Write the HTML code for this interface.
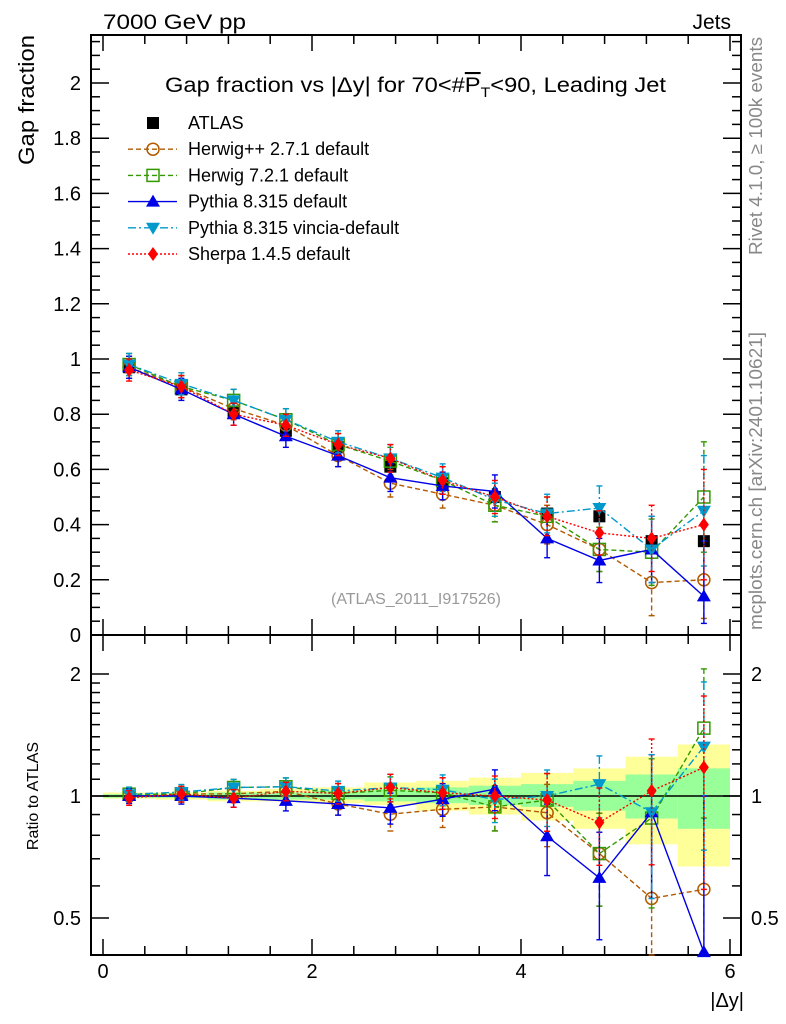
<!DOCTYPE html>
<html><head><meta charset="utf-8"><style>
html,body{margin:0;padding:0;background:#fff;}
svg{display:block;font-family:"Liberation Sans",Arial,sans-serif;}
</style></head><body>
<svg id="chart" width="786" height="1024" viewBox="0 0 786 1024" xmlns="http://www.w3.org/2000/svg">
<text x="103" y="29" font-size="21" textLength="143" lengthAdjust="spacingAndGlyphs">7000 GeV pp</text>
<text x="731" y="29" font-size="21" text-anchor="end">Jets</text>
<text x="165" y="92" font-size="21" textLength="501" lengthAdjust="spacingAndGlyphs">Gap fraction vs |Δy| for 70&lt;#<tspan text-decoration="overline">P</tspan><tspan font-size="14" dy="5">T</tspan><tspan dy="-5">&lt;90, Leading Jet</tspan></text>
<text transform="translate(34,100) rotate(-90)" font-size="22" text-anchor="middle" textLength="130" lengthAdjust="spacingAndGlyphs">Gap fraction</text>
<text transform="translate(38,796) rotate(-90)" font-size="16" text-anchor="middle">Ratio to ATLAS</text>
<text transform="translate(762,146) rotate(-90)" font-size="18" fill="#888" text-anchor="middle" textLength="218" lengthAdjust="spacingAndGlyphs">Rivet 4.1.0, ≥ 100k events</text>
<text transform="translate(762,481) rotate(-90)" font-size="18" fill="#888" text-anchor="middle" textLength="298" lengthAdjust="spacingAndGlyphs">mcplots.cern.ch [arXiv:2401.10621]</text>
<text x="416" y="604" font-size="16" fill="#999" text-anchor="middle" textLength="170" lengthAdjust="spacingAndGlyphs">(ATLAS_2011_I917526)</text>
<text x="744" y="1007" font-size="20" text-anchor="end">|Δy|</text>
<g id="g"></g>
</svg>
<script>
const xCenters=[0.25,0.75,1.25,1.75,2.25,2.75,3.25,3.75,4.25,4.75,5.25,5.75];
const atlas=[0.97,0.89,0.81,0.74,0.68,0.61,0.55,0.50,0.44,0.43,0.34,0.34];
const herwigpp=[0.97,0.90,0.82,0.76,0.65,0.55,0.51,0.47,0.40,0.31,0.19,0.20];
const herwig7=[0.98,0.90,0.85,0.78,0.69,0.63,0.56,0.47,0.43,0.31,0.30,0.50];
const pythia=[0.97,0.89,0.80,0.72,0.65,0.57,0.54,0.52,0.35,0.27,0.31,0.14];
const vincia=[0.98,0.91,0.85,0.78,0.70,0.64,0.57,0.49,0.44,0.46,0.31,0.45];
const sherpa=[0.96,0.90,0.80,0.76,0.69,0.64,0.56,0.50,0.43,0.37,0.35,0.40];
const mcErr=[0.04,0.04,0.04,0.04,0.04,0.05,0.05,0.06,0.07,0.08,0.12,0.20];
const yellowHi=[1.02,1.02,1.03,1.04,1.05,1.08,1.09,1.11,1.14,1.17,1.25,1.34];
const yellowLo=[0.985,0.98,0.97,0.97,0.96,0.95,0.92,0.90,0.87,0.83,0.76,0.67];
const greenHi=[1.01,1.01,1.02,1.02,1.03,1.04,1.05,1.06,1.07,1.09,1.13,1.17];
const greenLo=[0.99,0.99,0.98,0.98,0.98,0.97,0.96,0.95,0.94,0.92,0.88,0.83];
const mainTicks=[0,0.2,0.4,0.6,0.8,1,1.2,1.4,1.6,1.8,2];
const ratioTicks=[0.5,1,2];
const xTicks=[0,2,4,6];

const L=91,R=741,T=35,MB=635,RB=955;
const X=v=>103+v*104.5;
const Y=v=>635-v*276;
const RY=r=>796-122*Math.log2(r);
const NS="http://www.w3.org/2000/svg";
const g=document.getElementById('g');
function mk(tag,at,parent){const e=document.createElementNS(NS,tag);for(const k in at)e.setAttribute(k,at[k]);(parent||g).appendChild(e);return e;}

for(let i=0;i<xCenters.length;i++){
  let b=mk('rect',{x:X(xCenters[i]-0.25),y:RY(yellowHi[i]),width:X(0.5)-X(0),height:RY(yellowLo[i])-RY(yellowHi[i]),fill:'#ffff99'});
  
  
  let c=mk('rect',{x:X(xCenters[i]-0.25),y:RY(greenHi[i]),width:X(0.5)-X(0),height:RY(greenLo[i])-RY(greenHi[i]),fill:'#99ff99'});
  
  
}
let one=mk('line',{x1:L,x2:R,y1:RY(1),y2:RY(1),stroke:'#000','stroke-width':1.5});



let f1=mk('rect',{x:L,y:T,width:R-L,height:MB-T,fill:'none',stroke:'#000','stroke-width':2});


let f2=mk('rect',{x:L,y:MB,width:R-L,height:RB-MB,fill:'none',stroke:'#000','stroke-width':2});



for(let v=0;v<=6.01;v+=0.4){
  const major=Math.abs(v/2-Math.round(v/2))<1e-6;
  const len=major?16:9;
  for(const [yb,yt] of [[MB,T],[RB,MB]]){
    mk('line',{x1:X(v),x2:X(v),y1:yb,y2:yb-len,stroke:'#000','stroke-width':1.5});
    mk('line',{x1:X(v),x2:X(v),y1:yt,y2:yt+len,stroke:'#000','stroke-width':1.5});
  }
}
xTicks.forEach(v=>{let t=mk('text',{x:X(v),y:978,'font-size':20,'text-anchor':'middle'});t.textContent=v;

});
for(let k=0;k<=43;k++){const v=k*0.05;const y=Y(v);if(y<T)break;const major=k%4==0;const len=major?18:9;
  mk('line',{x1:L,x2:L+len,y1:y,y2:y,stroke:'#000','stroke-width':1.5});
  mk('line',{x1:R,x2:R-len,y1:y,y2:y,stroke:'#000','stroke-width':1.5});}
mainTicks.forEach(v=>{let t=mk('text',{x:81,y:Y(v)+7,'font-size':20,'text-anchor':'end'});t.textContent=(v===0?'0':String(v));

});
[0.5,0.6,0.7,0.8,0.9,1,2].concat([1.1,1.2,1.3,1.4,1.5,1.6,1.7,1.8,1.9]).forEach(r=>{
  const y=RY(r);const major=(r===0.5||r===1||r===2);const len=major?18:9;
  mk('line',{x1:L,x2:L+len,y1:y,y2:y,stroke:'#000','stroke-width':1.5});
  mk('line',{x1:R,x2:R-len,y1:y,y2:y,stroke:'#000','stroke-width':1.5});});
ratioTicks.forEach(r=>{
  let t=mk('text',{x:81,y:RY(r)+7,'font-size':20,'text-anchor':'end'});t.textContent=r;
  
  
  let t2=mk('text',{x:751,y:RY(r)+7,'font-size':20});t2.textContent=r;
  
  });

function marker(type,x,y,col,parent){
  if(type==='sq') return mk('rect',{x:x-6,y:y-6,width:12,height:12,fill:'#000'},parent);
  if(type==='circ') return mk('circle',{cx:x,cy:y,r:6,fill:'none',stroke:col,'stroke-width':1.5},parent);
  if(type==='osq') return mk('rect',{x:x-6,y:y-6,width:12,height:12,fill:'none',stroke:col,'stroke-width':1.5},parent);
  if(type==='tri') return mk('polygon',{points:`${x},${y-7} ${x-7},${y+5} ${x+7},${y+5}`,fill:col},parent);
  if(type==='itri') return mk('polygon',{points:`${x},${y+7} ${x-7},${y-5} ${x+7},${y-5}`,fill:col},parent);
  if(type==='dia') return mk('polygon',{points:`${x},${y-7} ${x-5},${y} ${x},${y+7} ${x+5},${y}`,fill:col},parent);
}
const series=[
 {name:'herwigpp',data:herwigpp,col:'#b35900',dash:'5,3',m:'circ'},
 {name:'herwig7',data:herwig7,col:'#339900',dash:'5,3',m:'osq'},
 {name:'pythia',data:pythia,col:'#0000e6',dash:'',m:'tri'},
 {name:'vincia',data:vincia,col:'#0099cc',dash:'8,3,2,3',m:'itri'},
 {name:'sherpa',data:sherpa,col:'#ff0000',dash:'2,2',m:'dia'}];
function drawSeries(s,Yf,vals,errs,panel){
  const gr=mk('g',{});
  
  
  const pts=xCenters.map((x,i)=>X(x)+','+Yf(vals[i])).join(' ');
  mk('polyline',{points:pts,fill:'none',stroke:s.col,'stroke-width':1.4,'stroke-dasharray':s.dash},gr);
  xCenters.forEach((x,i)=>{
    const lo=Math.max(vals[i]-errs[i],0.3*vals[i]),hi=vals[i]+errs[i];
    mk('line',{x1:X(x),x2:X(x),y1:Yf(hi),y2:Yf(lo),stroke:s.col,'stroke-width':1.4,'stroke-dasharray':s.dash},gr);
    mk('line',{x1:X(x)-3,x2:X(x)+3,y1:Yf(hi),y2:Yf(hi),stroke:s.col,'stroke-width':1.4},gr);
    mk('line',{x1:X(x)-3,x2:X(x)+3,y1:Yf(lo),y2:Yf(lo),stroke:s.col,'stroke-width':1.4},gr);
    const m=marker(s.m,X(x),Yf(vals[i]),s.col,gr);
    
    
  });
}
atlas.forEach((v,i)=>{const m=marker('sq',X(xCenters[i]),Y(v),'#000');
  
  });
series.forEach(s=>drawSeries(s,Y,s.data,mcErr,'main'));
series.forEach(s=>{
  const rv=s.data.map((v,i)=>v/atlas[i]);
  const re=mcErr.map((e,i)=>e/atlas[i]);
  drawSeries(s,v=>Math.min(Math.max(RY(v),MB),RB),rv,re,'ratio');
});

const leg=[['ATLAS','sq','#000',''],['Herwig++ 2.7.1 default','circ','#b35900','5,3'],['Herwig 7.2.1 default','osq','#339900','5,3'],
 ['Pythia 8.315 default','tri','#0000e6',''],['Pythia 8.315 vincia-default','itri','#0099cc','8,3,2,3'],['Sherpa 1.4.5 default','dia','#ff0000','2,2']];
leg.forEach((l,i)=>{
  const y=123+i*26.2;
  const gr=mk('g',{});
  
  
  if(i>0) mk('line',{x1:128,x2:177,y1:y,y2:y,stroke:l[2],'stroke-width':1.4,'stroke-dasharray':l[3]},gr);
  if(i===0) mk('rect',{x:147,y:y-6,width:12,height:12,fill:'#000'},gr); else marker(l[1],153,y,l[2],gr);
  const t=mk('text',{x:188,y:y+6,'font-size':18},gr);t.textContent=l[0];
});
</script>
</body></html>
